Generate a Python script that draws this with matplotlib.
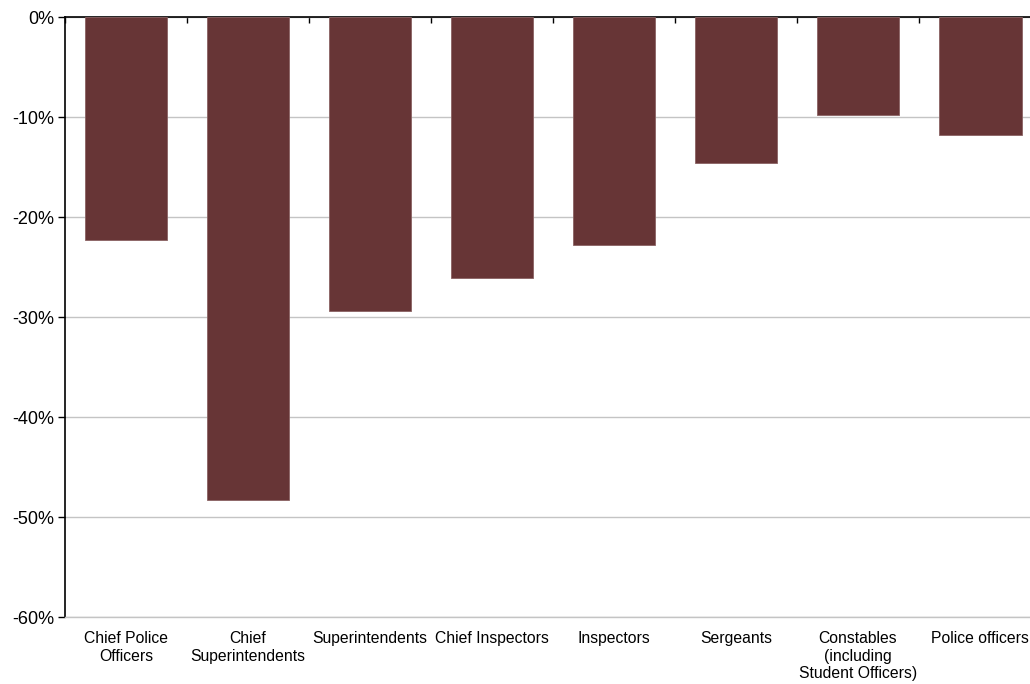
import matplotlib
matplotlib.use("Agg")
import matplotlib.pyplot as plt
import numpy as np

plt.rcParams['font.family'] = ['Liberation Sans', 'DejaVu Sans']

# Percentage change by rank
ranks = ["Chief Police\nOfficers", "Chief\nSuperintendents", "Superintendents",
         "Chief Inspectors", "Inspectors", "Sergeants",
         "Constables\n(including\nStudent Officers)", "Police officers"]
change = [-22.3, -48.3, -29.4, -26.1, -22.8, -14.6, -9.8, -11.8]
yticks = [0, -10, -20, -30, -40, -50, -60]

fig = plt.figure(figsize=(10.30, 6.84), dpi=100)
ax = fig.add_axes([0.0631, 0.0975, 0.9476, 0.8772])

x = np.arange(len(ranks))
ax.bar(x, change, width=0.68, color="#673536", edgecolor="#8a6262",
       linewidth=0.6, zorder=3)

ax.set_xlim(-0.5, len(ranks) - 0.5)
ax.set_ylim(-60, 0)
ax.set_yticks(yticks)
ax.set_yticklabels([f"{v}%" for v in yticks], fontsize=13)
ax.yaxis.grid(True, color="#c4c4c4", linewidth=1.0, zorder=0)
ax.set_axisbelow(True)

# category labels sit at the bottom, tick marks on the zero line at the top
ax.set_xticks(x)
ax.set_xticklabels(ranks, fontsize=11.3)
ax.tick_params(axis='x', which='major', bottom=True, length=0, pad=10)
ax.set_xticks(np.arange(-0.5, len(ranks), 1.0), minor=True)
ax.tick_params(axis='x', which='minor', top=True, bottom=False,
               direction='in', length=4, width=1, color='black')
ax.tick_params(axis='y', direction='out', length=5, width=1, pad=3)

ax.spines["right"].set_visible(False)
ax.spines["bottom"].set_color("#c4c4c4")
ax.spines["bottom"].set_linewidth(1.0)
ax.spines["left"].set_linewidth(1.2)
ax.spines["top"].set_linewidth(1.2)

fig.savefig("out.png", dpi=100)
